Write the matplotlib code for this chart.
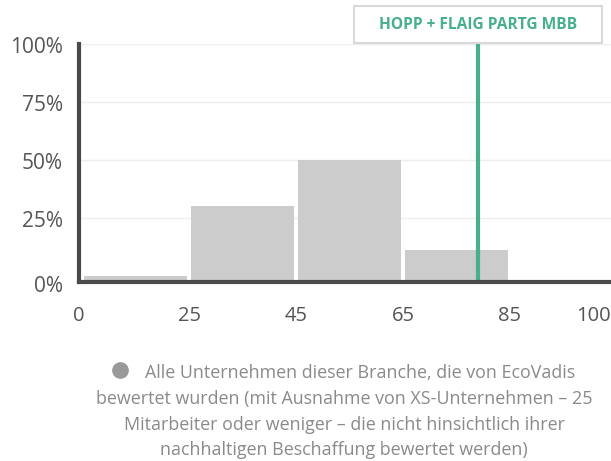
import matplotlib.pyplot as plt
from matplotlib.lines import Line2D
from matplotlib.patches import Rectangle
from matplotlib.transforms import ScaledTranslation, blended_transform_factory

# Daten
kategorien = ['0-25', '25-45', '45-65', '65-85', '85-100']
grenzen = ['0', '25', '45', '65', '85', '100']
anteile = [0.2, 30, 50, 11, 0]   # Prozent der Unternehmen
y_ticks = [0, 25, 50, 75, 100]
firma = 'HOPP + FLAIG PARTG MBB'
firma_score = 79
legende = ['Alle Unternehmen dieser Branche, die von EcoVadis',
           'bewertet wurden (mit Ausnahme von XS-Unternehmen – 25',
           'Mitarbeiter oder weniger – die nicht hinsichtlich ihrer',
           'nachhaltigen Beschaffung bewertet werden)']

plt.rcParams['font.family'] = ['Open Sans', 'DejaVu Sans']

grau_bar = '#cccccc'
gruen = '#47b08a'
achse = '#4a4a4a'
text_grau = '#555555'

fig = plt.figure(figsize=(6.11, 4.61), dpi=100)
W, H = 611, 461
ax = fig.add_axes([78.7 / W, (H - 282) / H, (W - 78.7) / W, (282 - 44) / H])

ymin = -2.6
xlo, xhi = -0.535, 4.445
ax.set_xlim(xlo, xhi)
ax.set_ylim(ymin, 100)

# Gitterlinien
for t in y_ticks[1:]:
    ax.axhline(t, color='#eeeeee', lw=1, zorder=0)

# Balken
x = list(range(len(kategorien)))
hoehen = [v - ymin if v > 0 else 0 for v in anteile]
ax.bar(x, hoehen, bottom=ymin, width=0.962, color=grau_bar, zorder=1)

# Position des Unternehmens innerhalb der Kategorie 65-85
pos = 3 - 0.5 + (firma_score - 65) / 20
ax.axvline(pos, ymin=0, ymax=1, color=gruen, lw=3, zorder=3)

# Achsen
for s in ['top', 'right']:
    ax.spines[s].set_visible(False)
for s in ['left', 'bottom']:
    ax.spines[s].set_color(achse)
    ax.spines[s].set_linewidth(3)
    ax.spines[s].set_zorder(4)

# y-Beschriftung
ax.set_yticks([])
trans_y = blended_transform_factory(ax.transAxes, ax.transData)
verschiebung = ScaledTranslation(-16 / 100, -4 / 100, fig.dpi_scale_trans)
for t in y_ticks:
    ax.text(0, ymin if t == 0 else t, f'{t}%', ha='right', va='center',
            fontsize=15, color=text_grau, transform=trans_y + verschiebung)

# x-Beschriftung
xt = [xlo] + [i + 0.5 for i in range(len(kategorien) - 1)] + [xhi]
ax.set_xticks(xt)
ax.set_xticklabels(grenzen)
ax.tick_params(length=0, labelsize=14.5, colors=text_grau)
ax.tick_params(axis='x', pad=17)
lbls = ax.get_xticklabels()
lbls[-1].set_ha('right')

# Box mit Firmenname
px = ax.transData.transform((pos, 100))
box_w, box_h = 248, 37
fig.patches.append(Rectangle((px[0] - box_w / 2, px[1] + 0.5), box_w, box_h,
                             fc='white', ec='#d9d9d9', lw=1.5,
                             transform=None, figure=fig))
fig.text(px[0] / W, (px[1] + 0.5 + box_h / 2) / H, firma, ha='center',
         va='center', color=gruen, fontsize=11.2, fontweight='bold')

# Legende
renderer = fig.canvas.get_renderer()
mitte = 344
for i, zeile in enumerate(legende):
    y_base = 1 - (378 + i * 25.8) / H
    t = fig.text(mitte / W, y_base, zeile, ha='center', va='baseline',
                 fontsize=12.9, color='#8a8a8a')
    if i == 0:
        # Kreis vor der ersten Zeile, Kreis + Text zusammen zentriert
        breite = t.get_window_extent(renderer).width
        start = mitte - (breite + 33) / 2
        t.set_ha('left')
        t.set_x((start + 33) / W)
        fig.lines.append(Line2D([(start + 8) / W], [1 - 370 / H], marker='o',
                                markersize=11, color='#999999',
                                transform=fig.transFigure))

fig.savefig('out.png', dpi=100)
